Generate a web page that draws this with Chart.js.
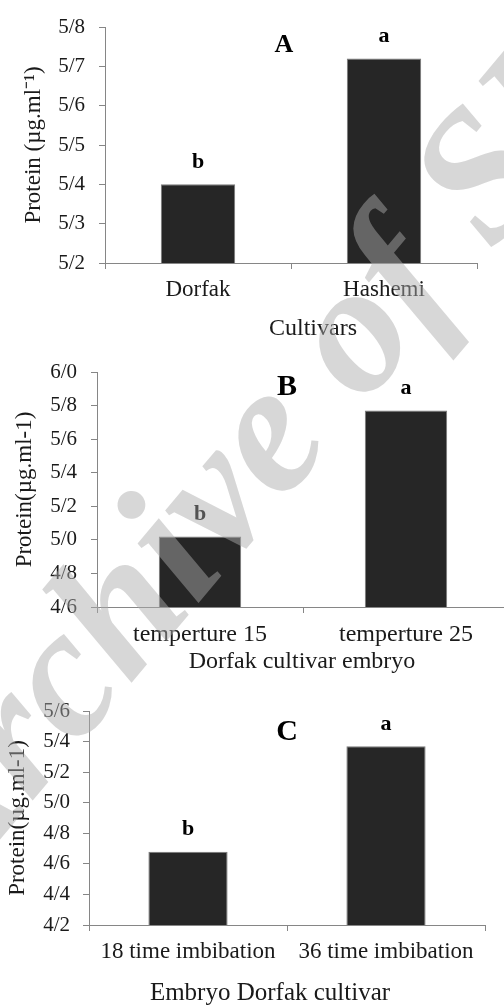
<!DOCTYPE html>
<html>
<head>
<meta charset="utf-8">
<script src="https://cdn.jsdelivr.net/npm/chart.js@4.4.1/dist/chart.umd.min.js"></script>
<style>
    body { margin: 0; width: 504px; height: 1005px; overflow: hidden; background: #fff; position: relative; }
    .panel { position: absolute; left: 0; }
    #watermark { position: absolute; left: 0; top: 0; pointer-events: none; z-index: 5; }
</style>
</head>
<body>
<div class="panel" style="top:0"><canvas id="chartA" width="504" height="345"></canvas></div>
<div class="panel" style="top:345px"><canvas id="chartB" width="520" height="335"></canvas></div>
<div class="panel" style="top:680px"><canvas id="chartC" width="504" height="325"></canvas></div>
<canvas id="watermark" width="504" height="1005"></canvas>

<script>
// Data
const cultivars = ['Dorfak', 'Hashemi'];
const proteinByCultivar = [5.40, 5.72];
const cultivarLetters = ['b', 'a'];

const temperatures = ['temperture 15', 'temperture 25'];
const proteinByTemperature = [5.02, 5.77];
const temperatureLetters = ['b', 'a'];

const imbibations = ['18 time imbibation', '36 time imbibation'];
const proteinByImbibation = [4.68, 5.37];
const imbibationLetters = ['b', 'a'];

// Axis ranges [min, max, step]
const rangeA = [5.2, 5.8, 0.1];
const rangeB = [4.6, 6.0, 0.2];
const rangeC = [4.2, 5.6, 0.2];

const SERIF = '"Liberation Serif", "Times New Roman", serif';
const AXIS_GREY = '#868686';
const BAR_COLOR = '#262626';

// Persian style decimal: 5.4 -> 5/4
function slashDecimal(value) {
    return value.toFixed(1).replace('.', '/');
}

// Draws significance letters, panel letter and x title
const notesPlugin = {
    id: 'notes',
    afterDatasetsDraw(chart, args, opts) {
        const ctx = chart.ctx;
        const meta = chart.getDatasetMeta(0);
        ctx.save();
        ctx.fillStyle = '#000';
        ctx.textAlign = 'center';
        ctx.textBaseline = 'middle';

        ctx.font = 'bold 22px ' + SERIF;
        meta.data.forEach((bar, i) => {
            ctx.fillText(opts.letters[i], bar.x, bar.y - 22);
        });

        ctx.font = 'bold ' + opts.panelSize + 'px ' + SERIF;
        ctx.fillText(opts.panel, opts.panelX, opts.panelY);

        ctx.fillStyle = '#1a1a1a';
        ctx.font = opts.titleSize + 'px ' + SERIF;
        ctx.fillText(opts.title, opts.titleX, opts.titleY);
        ctx.restore();
    }
};

function makePanel(id, cfg) {
    const ctx = document.getElementById(id).getContext('2d');
    return new Chart(ctx, {
        type: 'bar',
        data: {
            labels: cfg.labels,
            datasets: [{
                data: cfg.values,
                backgroundColor: BAR_COLOR,
                borderColor: '#7a7a7a',
                borderWidth: 1,
                categoryPercentage: 1,
                barPercentage: 0.4
            }]
        },
        options: {
            responsive: false,
            animation: false,
            layout: { padding: cfg.padding },
            plugins: {
                legend: { display: false },
                tooltip: { enabled: false },
                notes: cfg.notes
            },
            scales: {
                x: {
                    afterFit: s => { s.height = cfg.xHeight; },
                    border: { color: AXIS_GREY, width: 1 },
                    grid: { drawOnChartArea: false, drawTicks: true, tickLength: 6, color: AXIS_GREY, offset: true },
                    ticks: {
                        color: '#1a1a1a',
                        padding: 7,
                        maxRotation: 0,
                        autoSkip: false,
                        font: { family: SERIF, size: cfg.catSize }
                    }
                },
                y: {
                    min: cfg.range[0],
                    max: cfg.range[1],
                    afterFit: s => { s.width = cfg.yWidth; },
                    border: { color: AXIS_GREY, width: 1 },
                    grid: { drawOnChartArea: false, drawTicks: true, tickLength: 6, color: AXIS_GREY },
                    ticks: {
                        stepSize: cfg.range[2],
                        color: '#1a1a1a',
                        padding: cfg.tickPad,
                        font: { family: SERIF, size: 21 },
                        callback: v => slashDecimal(v)
                    },
                    title: {
                        display: true,
                        text: cfg.yTitle,
                        color: '#1a1a1a',
                        padding: { top: cfg.yTitlePad, bottom: 0 },
                        font: { family: SERIF, size: 23 }
                    }
                }
            }
        },
        plugins: [notesPlugin]
    });
}

makePanel('chartA', {
    labels: cultivars,
    values: proteinByCultivar,
    range: rangeA,
    padding: { top: 27, right: 27, left: 0, bottom: 0 },
    xHeight: 82,
    yWidth: 105,
    tickPad: 14,
    catSize: 23,
    yTitle: 'Protein (µg.ml⁻¹)',
    yTitlePad: 20,
    notes: {
        letters: cultivarLetters,
        panel: 'A', panelSize: 26, panelX: 284, panelY: 45,
        title: 'Cultivars', titleSize: 24, titleX: 313, titleY: 329
    }
});

makePanel('chartB', {
    labels: temperatures,
    values: proteinByTemperature,
    range: rangeB,
    padding: { top: 27, right: 11, left: 0, bottom: 0 },
    xHeight: 73,
    yWidth: 97,
    tickPad: 14,
    catSize: 24,
    yTitle: 'Protein(µg.ml-1)',
    yTitlePad: 11,
    notes: {
        letters: temperatureLetters,
        panel: 'B', panelSize: 30, panelX: 287, panelY: 42,
        title: 'Dorfak cultivar embryo', titleSize: 24, titleX: 302, titleY: 317
    }
});

makePanel('chartC', {
    labels: imbibations,
    values: proteinByImbibation,
    range: rangeC,
    padding: { top: 31, right: 19, left: 0, bottom: 0 },
    xHeight: 80,
    yWidth: 89,
    tickPad: 13,
    catSize: 23,
    yTitle: 'Protein(µg.ml-1)',
    yTitlePad: 4,
    notes: {
        letters: imbibationLetters,
        panel: 'C', panelSize: 30, panelX: 287, panelY: 52,
        title: 'Embryo Dorfak cultivar', titleSize: 25, titleX: 270, titleY: 313
    }
});

// Watermark across the page
const wm = document.getElementById('watermark').getContext('2d');
wm.save();
wm.translate(-49, 898);
wm.rotate(-50 * Math.PI / 180);
wm.font = 'italic bold 185px ' + SERIF;
wm.fillStyle = 'rgba(172, 172, 172, 0.48)';
wm.textBaseline = 'alphabetic';
wm.fillText('Archive of SID', 0, 0);
wm.restore();
</script>
</body>
</html>
